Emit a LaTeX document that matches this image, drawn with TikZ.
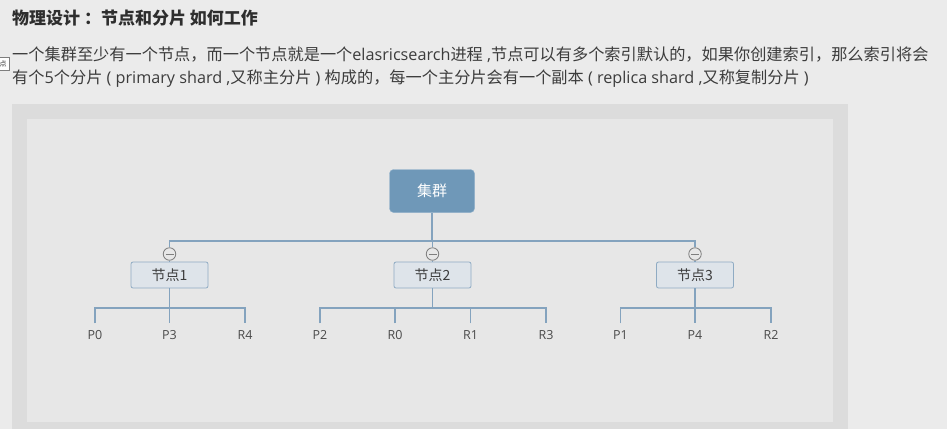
\documentclass[tikz,border=0pt]{standalone}
\usepackage{fontspec}
\setmainfont{Noto Sans CJK SC}
\newfontfamily\engfont{Open Sans}
\newcommand{\eng}[1]{{\engfont #1}}

\definecolor{pagebg}{HTML}{EBEBEB}
\definecolor{framebg}{HTML}{DCDCDC}
\definecolor{innerbg}{HTML}{E7E7E7}
\definecolor{titlegray}{HTML}{2E2E2E}
\definecolor{textgray}{HTML}{3C3C3C}
\definecolor{labelgray}{HTML}{4A4A4A}
\definecolor{clusterblue}{HTML}{6F98B8}
\definecolor{clusterline}{HTML}{8FB0CB}
\definecolor{memberfill}{HTML}{DEE4EA}
\definecolor{memberline}{HTML}{8FABC3}
\definecolor{linkblue}{HTML}{84A3BE}
\definecolor{foldgray}{HTML}{7E7E7E}

\begin{document}
\begin{tikzpicture}[x=1pt, y=-1pt,
    heading/.style={anchor=west, inner sep=0pt, text=titlegray, font=\fontsize{17}{17}\selectfont\bfseries},
    para/.style={anchor=west, inner sep=0pt, text=textgray, font=\fontsize{16.2}{16.2}\selectfont},
    cluster/.style={rectangle, rounded corners=4pt, draw=clusterline, fill=clusterblue, minimum width=85pt, minimum height=43pt, text=white, font=\fontsize{15}{15}\selectfont},
    member/.style={rectangle, rounded corners=2pt, draw=memberline, line width=0.8pt, fill=memberfill, minimum width=77pt, minimum height=26pt, text=textgray, font=\fontsize{14}{14}\selectfont},
    fold/.style={circle, draw=foldgray, line width=0.8pt, fill=innerbg, minimum size=12.5pt, inner sep=0pt,
        path picture={\draw[foldgray, line width=0.9pt] ([xshift=-4pt]path picture bounding box.center) -- ([xshift=4pt]path picture bounding box.center);}},
    shard/.style={inner xsep=0pt, inner ysep=7pt, text height=9pt, text depth=0pt, text=labelgray, font=\engfont\fontsize{12.5}{12.5}\selectfont},
    link/.style={draw=linkblue, line width=1.1pt}
]
    % Page and frame
    \fill[pagebg] (0,0) rectangle (947,429);
    \fill[framebg] (12,104) rectangle (848,429);
    \fill[innerbg] (27,119) rectangle (833,422);
    \useasboundingbox (0,0) rectangle (947,429);

    % Text above the picture
    \node[heading] (title) at (12,18) {物理设计 ：节点和分片 如何工作};
    \node[para] (line1) at (12,55) {一个集群至少有一个节点，而一个节点就是一个\eng{elasricsearch}进程\eng{ ,}节点可以有多个索引默认的，如果你创建索引，那么索引将会};
    \node[para] (line2) at (12,79) {有个\eng{5}个分片\eng{ ( primary shard ,}又称主分片\eng{ ) }构成的，每一个主分片会有一个副本\eng{ ( replica shard ,}又称复制分片\eng{ )}};
    \node[draw=foldgray, fill=white, inner sep=1pt, minimum width=12pt, minimum height=13pt, font=\fontsize{7}{7}\selectfont, text=textgray] (mark) at (3,64) {点};

    % Cluster and nodes
    \node[cluster] (cluster) at (432,191) {集群};
    \node[member] (n1) at (169.5,275) {节点1};
    \node[member] (n2) at (432.5,275) {节点2};
    \node[member] (n3) at (695,275) {节点3};
    \node[fold] (f1) at (169.5,254) {};
    \node[fold] (f2) at (432.5,254) {};
    \node[fold] (f3) at (695,254) {};

    % Shards
    \node[shard] (p0) at (95,335) {P0};
    \node[shard] (p3) at (169.5,335) {P3};
    \node[shard] (r4) at (245,335) {R4};
    \node[shard] (p2) at (320,335) {P2};
    \node[shard] (r0) at (395,335) {R0};
    \node[shard] (r1) at (470.5,335) {R1};
    \node[shard] (r3) at (546,335) {R3};
    \node[shard] (p1) at (620.5,335) {P1};
    \node[shard] (p4) at (695,335) {P4};
    \node[shard] (r2) at (771,335) {R2};

    % Bus lines
    \coordinate (bus) at (432.5,241);
    \coordinate (sb1) at (169.5,308);
    \coordinate (sb2) at (432.5,308);
    \coordinate (sb3) at (695,308);

    \draw[link] (cluster.south) -- (cluster.south |- bus);
    \draw[link] (f1.north) |- (bus) -| (f3.north);
    \draw[link] (bus) -- (f2.north);
    \draw[link] (f1.south) -- (n1.north);
    \draw[link] (f2.south) -- (n2.north);
    \draw[link] (f3.south) -- (n3.north);

    \draw[link] (n1.south) -- (sb1);
    \draw[link] (p0.north) |- (sb1) -| (r4.north);
    \draw[link] (sb1) -- (p3.north);

    \draw[link] (n2.south) -- (sb2);
    \draw[link] (p2.north) |- (sb2) -| (r3.north);
    \draw[link] (r0.north) -- (r0.north |- sb2);
    \draw[link] (r1.north) -- (r1.north |- sb2);

    \draw[link] (n3.south) -- (sb3);
    \draw[link] (p1.north) |- (sb3) -| (r2.north);
    \draw[link] (sb3) -- (p4.north);
\end{tikzpicture}
\end{document}
